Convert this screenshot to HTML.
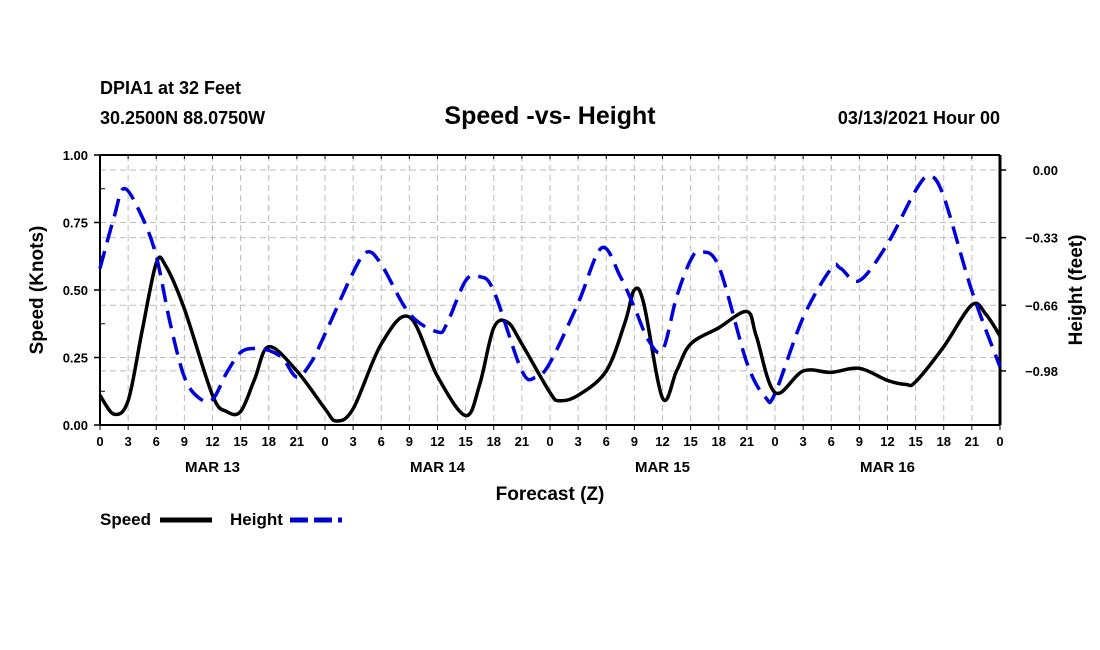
<!DOCTYPE html>
<html><head><meta charset="utf-8">
<style>
body{margin:0;background:#fff;}
svg{display:block;font-family:"Liberation Sans",Arial,sans-serif;}
</style></head>
<body>
<svg id="chart" width="1100" height="650" viewBox="0 0 1100 650" xmlns="http://www.w3.org/2000/svg">
<rect width="1100" height="650" fill="#fff"/>
<text x="100" y="94" font-size="18" font-weight="bold">DPIA1 at 32 Feet</text>
<text x="100" y="124" font-size="18" font-weight="bold">30.2500N 88.0750W</text>
<text x="550" y="124" font-size="25" font-weight="bold" text-anchor="middle">Speed -vs- Height</text>
<text x="1000" y="124" font-size="18" font-weight="bold" text-anchor="end">03/13/2021 Hour 00</text>
<g id="grid"></g>
<g id="axes"></g>
<g id="series"></g>
<text transform="translate(43,290) rotate(-90)" font-size="19" font-weight="bold" text-anchor="middle">Speed (Knots)</text>
<text transform="translate(1082,290) rotate(-90)" font-size="19" font-weight="bold" text-anchor="middle">Height (feet)</text>
<text x="550" y="500" font-size="19" font-weight="bold" text-anchor="middle">Forecast (Z)</text>
<g>
<text x="100" y="525" font-size="17" font-weight="bold">Speed</text>
<line x1="160" y1="520" x2="212" y2="520" stroke="#000" stroke-width="5"/>
<text x="230" y="525" font-size="17" font-weight="bold">Height</text>
<line x1="290" y1="520" x2="342" y2="520" stroke="#00c" stroke-width="5" stroke-dasharray="18,6"/>
</g>
</svg>
<script>
const speedHours=[0,1.5,3,4.5,6,7,9,12,13.5,15,16.5,18,21,24,25.2,27,30,33,36,39,40.5,42,43.5,45,48,49,51,54,56,57,58,60,61.5,63,66,69,70,72,75,78,81,84,86,87,90,93,94.5,96];
const speedValues=[0.11,0.04,0.09,0.35,0.60,0.59,0.43,0.11,0.05,0.05,0.17,0.29,0.20,0.06,0.015,0.06,0.30,0.40,0.18,0.035,0.15,0.36,0.38,0.30,0.12,0.09,0.11,0.20,0.38,0.50,0.45,0.10,0.20,0.30,0.36,0.42,0.33,0.12,0.20,0.195,0.21,0.165,0.15,0.16,0.29,0.445,0.41,0.33];
const heightHours=[0,1.5,2.6,4.5,6,7.5,9,10.5,12,13.5,15,16.5,18,19.5,21,22.5,24,27,28.5,30,33,36,37,39,40.5,42,45,46.5,48,51,53.5,55.5,57,58.5,60,61.5,63,64,66,69,71,72,75,78,79,81,84,87,88.5,90,93,96];
const heightValues=[-0.48,-0.23,-0.09,-0.23,-0.42,-0.75,-1.01,-1.11,-1.12,-0.99,-0.89,-0.87,-0.88,-0.92,-1.01,-0.94,-0.80,-0.50,-0.40,-0.46,-0.70,-0.79,-0.75,-0.54,-0.52,-0.59,-0.98,-1.01,-0.94,-0.65,-0.38,-0.52,-0.67,-0.83,-0.88,-0.62,-0.44,-0.40,-0.47,-0.94,-1.11,-1.09,-0.72,-0.48,-0.48,-0.54,-0.36,-0.10,-0.03,-0.13,-0.59,-0.96];
const speedTicks=[0,0.25,0.5,0.75,1.0];
const speedTickLabels=["0.00","0.25","0.50","0.75","1.00"];
const heightTicks=[0,-0.33,-0.66,-0.98];
const heightTickLabels=["0.00","\u22120.33","\u22120.66","\u22120.98"];
const hourTicks=[0,3,6,9,12,15,18,21,24,27,30,33,36,39,42,45,48,51,54,57,60,63,66,69,72,75,78,81,84,87,90,93,96];
const dayLabels=["MAR 13","MAR 14","MAR 15","MAR 16"];
const dayLabelHours=[12,36,60,84];

const L=100,R=1000,T=155,B=425;
const X=h=>L+(R-L)*h/96;
const YS=s=>B-(B-T)*s;
const YH=v=>170-205*v;
const NS="http://www.w3.org/2000/svg";
function mk(tag,attrs,parent){const e=document.createElementNS(NS,tag);for(const k in attrs)e.setAttribute(k,attrs[k]);parent.appendChild(e);return e;}
const grid=document.getElementById('grid'),axes=document.getElementById('axes'),series=document.getElementById('series');
const gs={stroke:"#bbb","stroke-width":1,"stroke-dasharray":"6,4"};
hourTicks.forEach(h=>{const l=mk('line',Object.assign({x1:X(h),x2:X(h),y1:T,y2:B},gs),grid);

});
speedTicks.forEach(s=>{const l=mk('line',Object.assign({x1:L,x2:R,y1:YS(s),y2:YS(s)},gs),grid);

});
heightTicks.forEach(v=>{const l=mk('line',Object.assign({x1:L,x2:R,y1:YH(v),y2:YH(v)},gs),grid);

});
mk('line',{x1:L,x2:R,y1:T,y2:T,stroke:"#000","stroke-width":2},axes);
mk('line',{x1:L,x2:R,y1:B,y2:B,stroke:"#000","stroke-width":2},axes);
mk('line',{x1:L,x2:L,y1:T,y2:B,stroke:"#000","stroke-width":2},axes);
mk('line',{x1:R,x2:R,y1:T,y2:B,stroke:"#000","stroke-width":3},axes);
speedTicks.forEach((s,i)=>{
 mk('line',{x1:L-6,x2:L,y1:YS(s),y2:YS(s),stroke:"#000","stroke-width":1.5},axes);
 const t=mk('text',{x:L-12,y:YS(s)+5,"font-size":13,"font-weight":"bold","text-anchor":"end"},axes);t.textContent=speedTickLabels[i];
 
 
});
for(let s=0.125;s<1;s+=0.25){mk('line',{x1:L,x2:L+5,y1:YS(s),y2:YS(s),stroke:"#000","stroke-width":1},axes);}
heightTicks.forEach((v,i)=>{
 mk('line',{x1:R,x2:R+6,y1:YH(v),y2:YH(v),stroke:"#000","stroke-width":1.5},axes);
 const t=mk('text',{x:R+58,y:YH(v)+5,"font-size":13,"font-weight":"bold","text-anchor":"end"},axes);t.textContent=heightTickLabels[i];
 
 
});
hourTicks.forEach(h=>{
 mk('line',{x1:X(h),x2:X(h),y1:B,y2:B+5,stroke:"#000","stroke-width":1},axes);
 mk('line',{x1:X(h),x2:X(h),y1:T,y2:T+4,stroke:"#000","stroke-width":1},axes);
 const t=mk('text',{x:X(h),y:B+21,"font-size":13,"font-weight":"bold","text-anchor":"middle"},axes);t.textContent=String(h%24);
 
 
});
dayLabels.forEach((d,i)=>{
 const t=mk('text',{x:X(dayLabelHours[i]),y:B+47,"font-size":15,"font-weight":"bold","text-anchor":"middle"},axes);t.textContent=d;
 
 
});
function spline(pts){
 let d=`M${pts[0][0]},${pts[0][1]}`;
 for(let i=0;i<pts.length-1;i++){
  const p0=pts[Math.max(0,i-1)],p1=pts[i],p2=pts[i+1],p3=pts[Math.min(pts.length-1,i+2)];
  const c1=[p1[0]+(p2[0]-p0[0])/6,p1[1]+(p2[1]-p0[1])/6];
  const c2=[p2[0]-(p3[0]-p1[0])/6,p2[1]-(p3[1]-p1[1])/6];
  d+=` C${c1[0]},${c1[1]} ${c2[0]},${c2[1]} ${p2[0]},${p2[1]}`;
 }
 return d;
}
const sp=mk('path',{d:spline(speedHours.map((h,i)=>[X(h),YS(speedValues[i])])),fill:"none",stroke:"#000","stroke-width":3.5,"stroke-linejoin":"round"},series);


const hp=mk('path',{d:spline(heightHours.map((h,i)=>[X(h),YH(heightValues[i])])),fill:"none",stroke:"#0000dd","stroke-width":3.5,"stroke-dasharray":"18,9"},series);


</script>
</body></html>
